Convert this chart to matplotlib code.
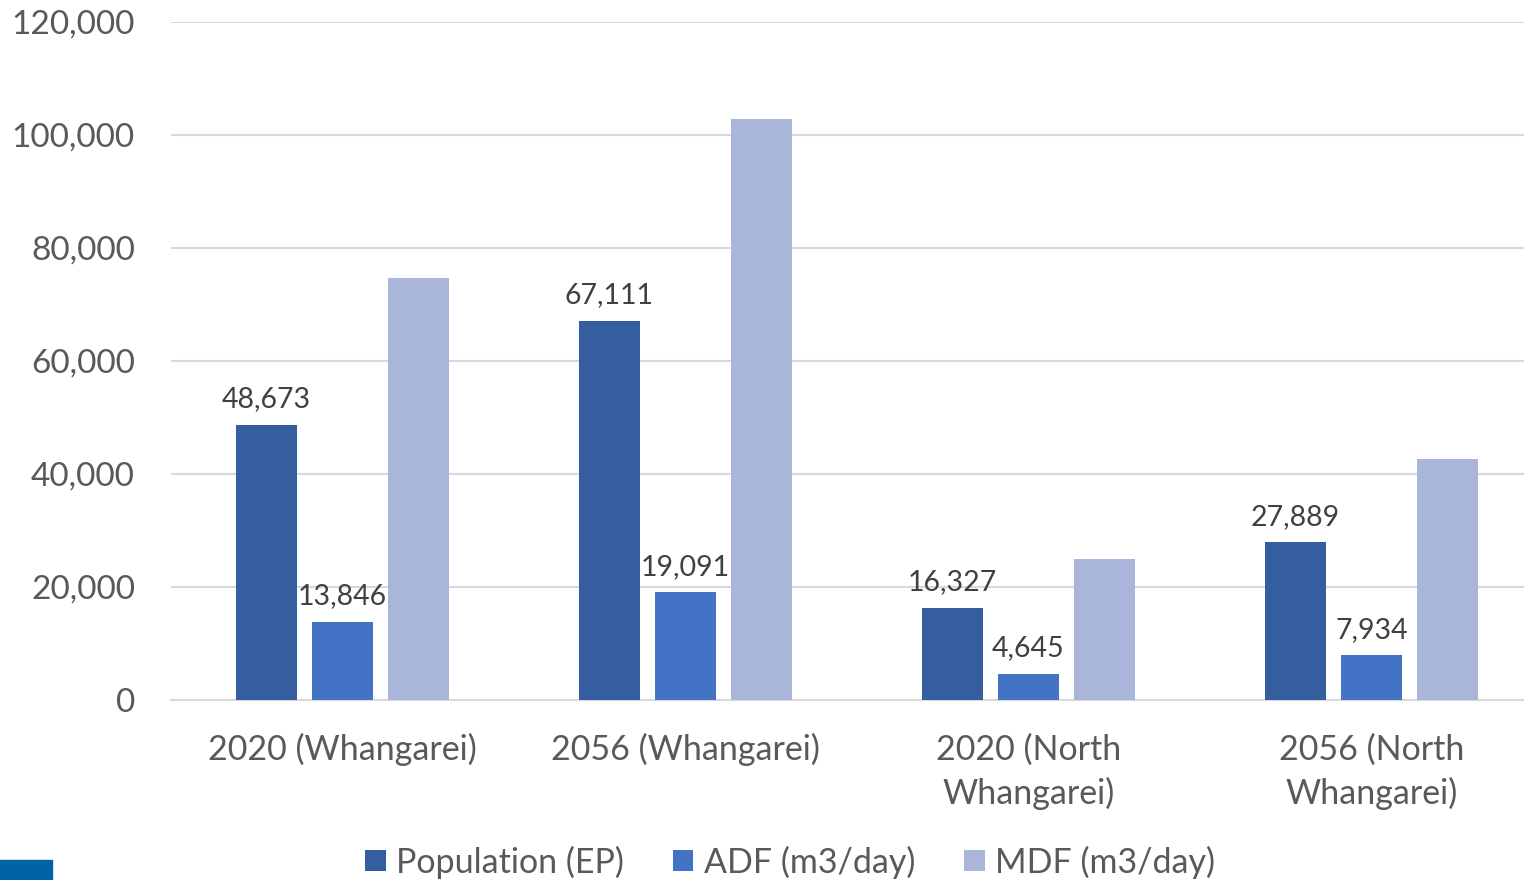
import matplotlib
matplotlib.use("Agg")
import matplotlib.pyplot as plt
import numpy as np
from matplotlib.patches import Rectangle
from matplotlib.ticker import FuncFormatter

categories = ["2020 (Whangarei)", "2056 (Whangarei)", "2020 (North\nWhangarei)", "2056 (North\nWhangarei)"]
series_names = ["Population (EP)", "ADF (m3/day)", "MDF (m3/day)"]
population = [48673, 67111, 16327, 27889]
adf = [13846, 19091, 4645, 7934]
mdf = [74700, 102900, 24900, 42700]
colors = ["#355E9F", "#4472C4", "#A9B6DA"]
y_ticks = [0, 20000, 40000, 60000, 80000, 100000, 120000]

plt.rcParams['font.family'] = ['Lato', 'DejaVu Sans']

W, H = 1524, 880
fig = plt.figure(figsize=(W/100, H/100), dpi=100)
ax = fig.add_axes([171/W, (H-700)/H, 1372/W, 678/H])

x = np.arange(len(categories))
bw = 0.175
step = 0.2216
series = [population, adf, mdf]
for i, (vals, name, c) in enumerate(zip(series, series_names, colors)):
    bars = ax.bar(x + (i-1)*step, vals, bw, color=c, label=name, zorder=3)
    if i < 2:
        ax.bar_label(bars, labels=[f"{v:,}" for v in vals], padding=9,
                     fontsize=20.5, color="#404040")

ax.set_xlim(-0.5, 3.5)
ax.set_ylim(0, 120000)
ax.set_yticks(y_ticks)
ax.yaxis.set_major_formatter(FuncFormatter(lambda v, p: f"{int(v):,}"))
ax.set_xticks(x)
ax.set_xticklabels(categories, linespacing=1.42)
ax.tick_params(axis='y', length=0, pad=26, labelsize=24, labelcolor="#595959")
ax.tick_params(axis='x', length=0, pad=24, labelsize=24.5, labelcolor="#595959")
ax.grid(axis='y', color="#D9D9D9", linewidth=1.5, zorder=0)
for s in ["top", "right", "left"]:
    ax.spines[s].set_visible(False)
ax.spines["bottom"].set_color("#D9D9D9")
ax.spines["bottom"].set_linewidth(1.5)

leg = fig.legend(loc="center", bbox_to_anchor=(790/W, 1-862/H), ncol=3, frameon=False,
                 fontsize=24.5, handlelength=0.6, handleheight=0.6, handletextpad=0.3,
                 columnspacing=1.45, labelcolor="#595959")

fig.patches.append(Rectangle((0, 0), 52/W, 20/H, transform=fig.transFigure,
                             color="#0063A6", zorder=5))

fig.savefig("out.png", dpi=100)
